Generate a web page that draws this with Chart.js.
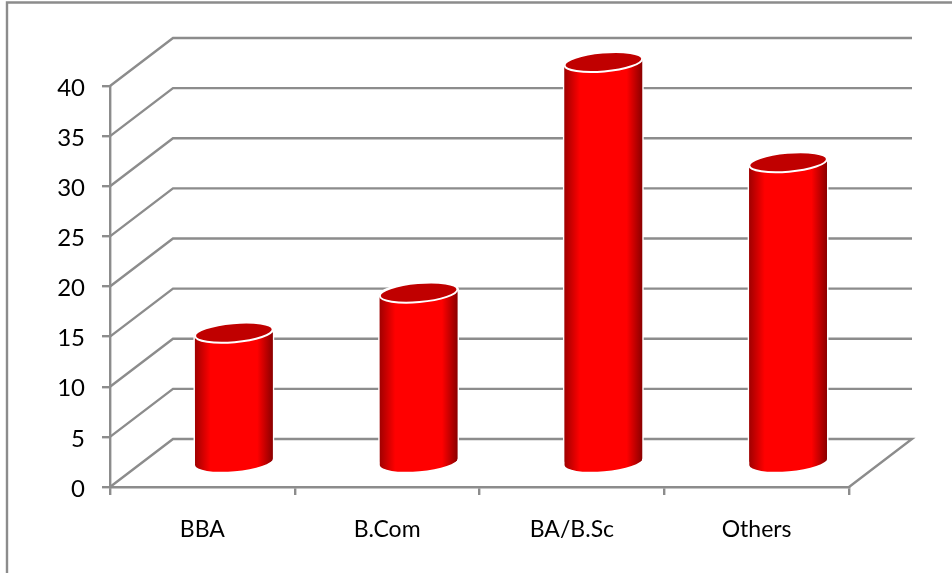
<!DOCTYPE html>
<html>
<head>
<meta charset="utf-8">
<title>Chart</title>
<script src="https://cdn.jsdelivr.net/npm/chart.js@4"></script>
<style>
  html, body { margin: 0; padding: 0; background: #fff; }
  canvas { display: block; }
</style>
</head>
<body>
<canvas id="cylinderChart" width="952" height="573"></canvas>
<script>
const categories = ["BBA", "B.Com", "BA/B.Sc", "Others"];
const seriesValues = [13, 17, 40, 30];
const yTickStep = 5;
const yMax = 40;

const GREY = "#8c8c8c";
const LINE_W = 2.4;
const BAR_PCT = 0.422;
// depth of the fake 3d box, bars stand in the middle of it
const DEPTH_X = 63;
const DEPTH_Y = 48;
const RIGHT_END = 912;
const TILT = (-5 * Math.PI) / 180;
const RY = 9.5;

function cylinderPath(ctx, bar) {
  const rx = bar.width / 2;
  ctx.moveTo(bar.x - rx, bar.y);
  ctx.ellipse(bar.x, bar.y, rx, RY, TILT, Math.PI, 0, false);
  ctx.ellipse(bar.x, bar.base, rx, RY, TILT, 0, Math.PI, false);
  ctx.closePath();
}

function sideGradient(ctx, cx, rx) {
  const g = ctx.createLinearGradient(cx - rx, 0, cx + rx, 0);
  g.addColorStop(0, "#a00000");
  g.addColorStop(0.2, "#ff0000");
  g.addColorStop(0.8, "#ff0000");
  g.addColorStop(1, "#8a0000");
  return g;
}

const box3d = {
  id: "box3d",
  beforeDatasetsDraw(chart) {
    const { ctx, chartArea } = chart;
    const y = chart.scales.y;
    ctx.save();
    ctx.strokeStyle = GREY;
    ctx.lineWidth = LINE_W;

    // outer frame, only top and left are visible
    ctx.beginPath();
    ctx.moveTo(7, 573);
    ctx.lineTo(7, 2.5);
    ctx.lineTo(952, 2.5);
    ctx.stroke();

    // walls
    y.ticks.forEach((t) => {
      const py = y.getPixelForValue(t.value);
      ctx.beginPath();
      ctx.moveTo(chartArea.left, py);
      ctx.lineTo(chartArea.left + DEPTH_X, py - DEPTH_Y);
      ctx.lineTo(RIGHT_END, py - DEPTH_Y);
      if (t.value === 0) ctx.lineTo(chartArea.right, py);
      ctx.stroke();
    });
    ctx.restore();
  },
  beforeDatasetDraw(chart) {
    const { ctx } = chart;
    ctx.save();
    // move the bars back to the middle of the floor
    ctx.translate(DEPTH_X / 2, -DEPTH_Y / 2);
    chart.getDatasetMeta(0).data.forEach((bar) => {
      ctx.beginPath();
      cylinderPath(ctx, bar);
      ctx.strokeStyle = "#ffffff";
      ctx.lineWidth = 3;
      ctx.stroke();
      ctx.fillStyle = sideGradient(ctx, bar.x, bar.width / 2);
      ctx.fill();
    });
    ctx.beginPath();
    chart.getDatasetMeta(0).data.forEach((bar) => cylinderPath(ctx, bar));
    ctx.clip();
  },
  afterDatasetDraw(chart) {
    const { ctx } = chart;
    ctx.restore();
    ctx.save();
    ctx.translate(DEPTH_X / 2, -DEPTH_Y / 2);
    chart.getDatasetMeta(0).data.forEach((bar) => {
      ctx.beginPath();
      ctx.ellipse(bar.x, bar.y, bar.width / 2, RY, TILT, 0, Math.PI * 2);
      ctx.fillStyle = "#c00000";
      ctx.fill();
      ctx.strokeStyle = "#ffffff";
      ctx.lineWidth = 2;
      ctx.stroke();
    });
    ctx.restore();
  },
};

new Chart(document.getElementById("cylinderChart").getContext("2d"), {
  type: "bar",
  data: {
    labels: categories,
    datasets: [
      {
        data: seriesValues,
        borderWidth: 0,
        backgroundColor: (c) => {
          const x = c.chart.scales.x;
          if (!x || c.dataIndex === undefined) return "#ff0000";
          const rx = ((x.width / categories.length) * BAR_PCT) / 2;
          const cx = x.getPixelForValue(c.dataIndex);
          // scales have no size yet on the first pass
          if (!Number.isFinite(cx) || !Number.isFinite(rx)) return "#ff0000";
          return sideGradient(c.chart.ctx, cx, rx);
        },
        barPercentage: BAR_PCT,
        categoryPercentage: 1,
      },
    ],
  },
  options: {
    responsive: false,
    animation: false,
    layout: { padding: { left: 0, right: 103, top: 86, bottom: 0 } },
    plugins: { legend: { display: false }, tooltip: { enabled: false } },
    scales: {
      x: {
        afterFit: (s) => { s.height = 86; },
        border: { color: GREY, width: LINE_W },
        grid: { color: GREY, lineWidth: LINE_W, tickLength: 8, drawOnChartArea: false },
        ticks: {
          color: "#000000",
          padding: 21,
          maxRotation: 0,
          font: { family: "Lato", size: 23 },
        },
      },
      y: {
        min: 0,
        max: yMax,
        afterFit: (s) => { s.width = 110; },
        border: { color: GREY, width: LINE_W },
        grid: { color: GREY, lineWidth: LINE_W, tickLength: 8, drawOnChartArea: false },
        ticks: {
          stepSize: yTickStep,
          color: "#000000",
          padding: 17,
          labelOffset: 2,
          font: { family: "Lato", size: 24 },
        },
      },
    },
  },
  plugins: [box3d],
});
</script>
</body>
</html>
